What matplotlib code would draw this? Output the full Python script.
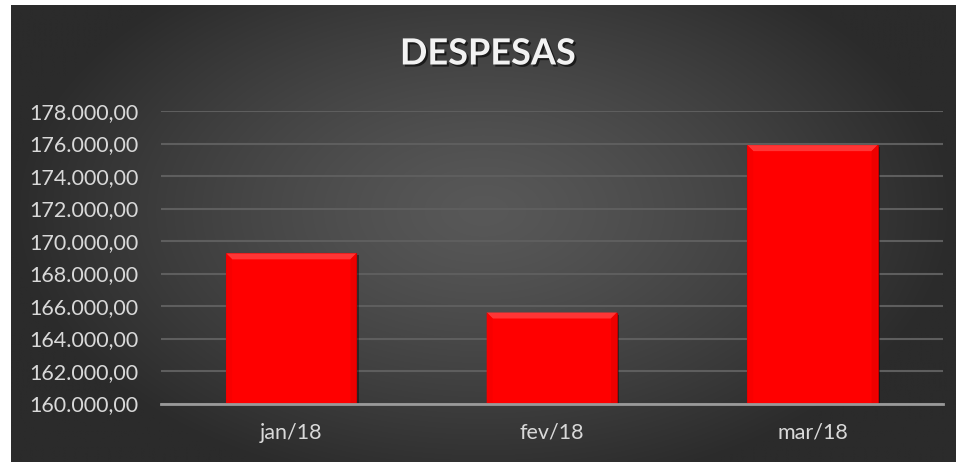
import numpy as np
import matplotlib
matplotlib.use('Agg')
import matplotlib.pyplot as plt
from matplotlib.patches import Polygon
from matplotlib.ticker import FuncFormatter
import matplotlib.patheffects as pe

# Dados do grafico
meses = ['jan/18', 'fev/18', 'mar/18']
despesas = [169240, 165600, 175900]
y_min, y_max, y_passo = 160000, 178000, 2000

plt.rcParams['font.family'] = ['Lato', 'DejaVu Sans']

fig = plt.figure(figsize=(9.56, 4.62), dpi=100)
fig.patch.set_facecolor('white')

# Fundo com gradiente radial
bg = fig.add_axes([11 / 956, 0, 945 / 956, 457 / 462])
bg.set_axis_off()
nx, ny = 400, 200
xx, yy = np.meshgrid(np.linspace(-1, 1, nx), np.linspace(-1, 1, ny))
r = np.sqrt(((xx - 0.0) / 1.0) ** 2 + ((yy + 0.1) / 1.25) ** 2)
r = np.clip(r, 0, 1)
c0, c1 = 0x58 / 255, 0x2b / 255
val = c0 + (c1 - c0) * r ** 1.3
img = np.dstack([val, val, val])
bg.imshow(img, aspect='auto', extent=[0, 1, 0, 1], interpolation='bilinear')
bg.set_xlim(0, 1)
bg.set_ylim(0, 1)

ax_l, ax_b = 161 / 956, (462 - 403.5) / 462
ax_w, ax_h = (942.7 - 161) / 956, 292.5 / 462
ax = fig.add_axes([ax_l, ax_b, ax_w, ax_h])
ax.patch.set_alpha(0)

x = np.arange(len(meses))
largura = 0.5
barras = ax.bar(x, despesas, width=largura, bottom=0, color='#ff0000',
                edgecolor='#c00000', linewidth=0.8, zorder=3)
for b in barras:
    b.set_path_effects([pe.SimplePatchShadow(offset=(1.5, -1.5), shadow_rgbFace='black', alpha=0.4),
                        pe.Normal()])

ax.set_xlim(-0.5, len(meses) - 0.5)
ax.set_ylim(y_min, y_max)

# chanfro (bevel) das barras
bev_px = 6
dx = bev_px / (ax_w * 956) * len(meses)
dy = bev_px / (ax_h * 462) * (y_max - y_min)
for xi, v in zip(x, despesas):
    l, rr = xi - largura / 2, xi + largura / 2
    top = Polygon([[l, v], [rr, v], [rr - dx, v - dy], [l + dx, v - dy]],
                  closed=True, facecolor='#ff3535', edgecolor='none', zorder=4)
    left = Polygon([[l, v], [l + dx, v - dy], [l + dx, y_min], [l, y_min]],
                   closed=True, facecolor='#f80000', edgecolor='none', zorder=4)
    right = Polygon([[rr, v], [rr - dx, v - dy], [rr - dx, y_min], [rr, y_min]],
                    closed=True, facecolor='#ee0000', edgecolor='none', zorder=4)
    for p in (top, left, right):
        ax.add_patch(p)

ax.set_yticks(np.arange(y_min, y_max + 1, y_passo))
ax.yaxis.set_major_formatter(FuncFormatter(
    lambda v, p: '{:,.2f}'.format(v).replace(',', 'X').replace('.', ',').replace('X', '.')))
ax.set_xticks(x)
ax.set_xticklabels(meses)

ax.grid(axis='y', color='#5e5e5e', linewidth=1.5, zorder=0)
ax.grid(axis='x', visible=False)
for s in ['top', 'right', 'left']:
    ax.spines[s].set_visible(False)
ax.spines['bottom'].set_color('#9a9a9a')
ax.spines['bottom'].set_linewidth(2)
ax.spines['bottom'].set_zorder(5)
ax.tick_params(axis='both', length=0, labelsize=15.5, labelcolor='#d9d9d9')
ax.tick_params(axis='y', pad=16)
ax.tick_params(axis='x', pad=14)

fig.text(488 / 956, 1 - 54 / 462, 'DESPESAS', ha='center', va='center',
         fontsize=26, fontweight='bold', color='#f2f2f2',
         path_effects=[pe.withSimplePatchShadow(offset=(1.5, -1.5), shadow_rgbFace='black', alpha=0.6)])

fig.savefig('out.png', dpi=100, facecolor=fig.get_facecolor())
